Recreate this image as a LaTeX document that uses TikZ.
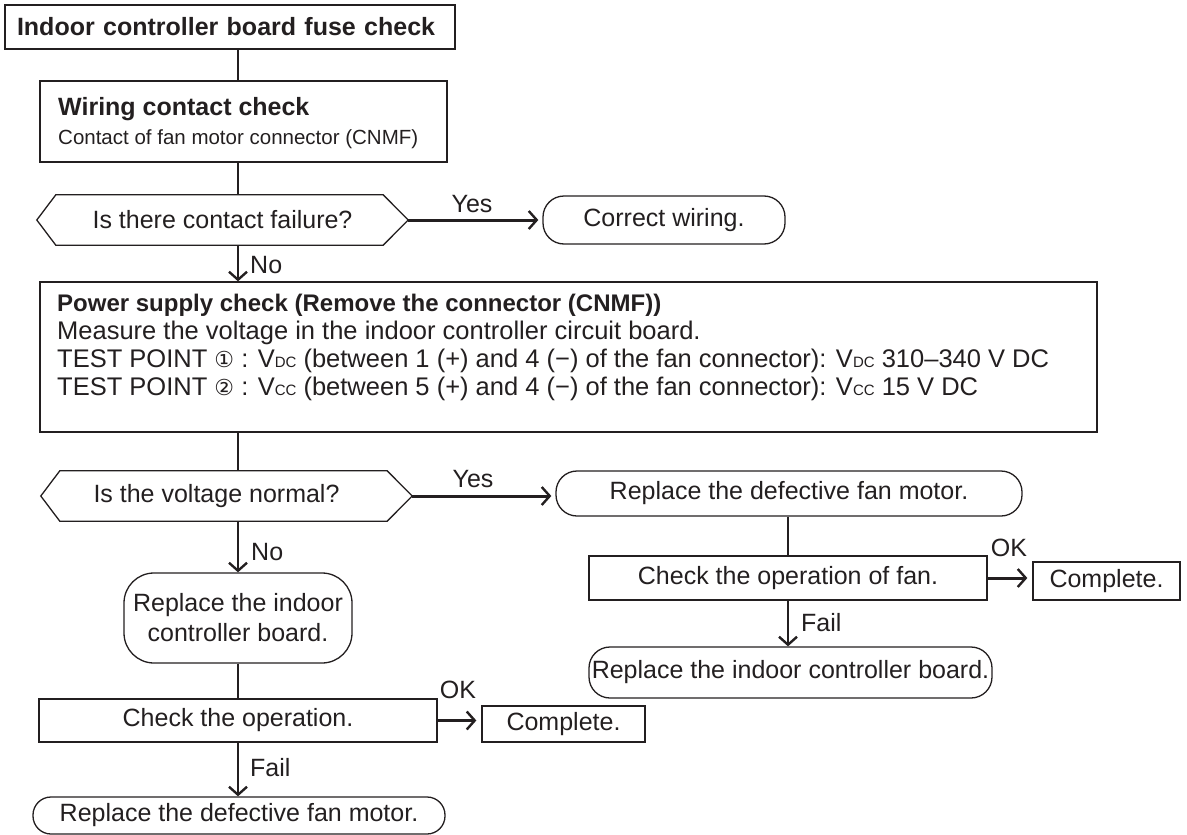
\documentclass[tikz,border=0pt]{standalone}
\usepackage{fontspec}
\setmainfont{Liberation Sans}
\newfontfamily\dejavu{DejaVu Sans}
\usetikzlibrary{arrows.meta,calc}
\definecolor{ink}{RGB}{35,31,32}
\newcommand\vsub[1]{{\fontsize{15}{15}\selectfont #1}}
\begin{document}
\begin{tikzpicture}[x=1pt,y=-1pt,
  every node/.style={text=ink, inner sep=0pt},
  box/.style={draw=ink, line width=1.3pt, rectangle, inner sep=0pt},
  rbox/.style={box, rounded corners=21pt},
  fnt/.style={font=\fontsize{25}{30}\selectfont},
  conn/.style={draw=ink, line width=2.4pt},
  arr/.style={conn, -{Straight Barb[length=8pt,width=18pt,line width=2.4pt]}},
  harr/.style={arr, line width=3pt},
]
\useasboundingbox (0,0) rectangle (1187,835);
\coordinate (sp) at (238,0);

% title
\node[box, minimum width=450pt, minimum height=44pt, text width=426pt, align=left,
      font=\bfseries\fontsize{25}{30}\selectfont] (title) at (230,27) {Indoor controller board fuse check};

% wiring contact check
\node[box, minimum width=407pt, minimum height=81pt] (wire) at (243.5,121.5) {};
\node[anchor=base west, font=\bfseries\fontsize{25}{30}\selectfont] (wiret) at (58,115) {Wiring contact check};
\node[anchor=base west, font=\fontsize{20.5}{24}\selectfont] (wires) at (58,144) {Contact of fan motor connector (CNMF)};

% question 1
\node[fnt, minimum width=371pt, minimum height=50pt] (q1) at (222.5,220) {Is there contact failure?};
\draw[box] (q1.west) -- ([xshift=19pt]q1.north west) -- ([xshift=-25pt]q1.north east) -- (q1.east)
  -- ([xshift=-25pt]q1.south east) -- ([xshift=19pt]q1.south west) -- cycle;
\node[rbox, fnt, minimum width=242pt, minimum height=48pt] (cw) at (664,220) {Correct wiring.};
\node[fnt] (yes1) at (472,204) {Yes};

% power supply check
\node[box, minimum width=1057pt, minimum height=150pt] (pw) at (568.5,357) {};
\node[anchor=base west, font=\bfseries\fontsize{24}{28}\selectfont] (p1) at (57,311) {Power supply check (Remove the connector (CNMF))};
\node[anchor=base west, font=\fontsize{25.5}{28}\selectfont] (p2) at (57,339) {Measure the voltage in the indoor controller circuit board.};
\node[anchor=base west, font=\fontsize{25.5}{28}\selectfont] (p3) at (57,367) {TEST POINT {\dejavu\fontsize{22}{22}\selectfont ①} : V\vsub{DC} (between 1 (+) and 4 (−) of the fan connector): V\vsub{DC} 310–340 V DC};
\node[anchor=base west, font=\fontsize{25.5}{28}\selectfont] (p4) at (57,395) {TEST POINT {\dejavu\fontsize{22}{22}\selectfont ②} : V\vsub{CC} (between 5 (+) and 4 (−) of the fan connector): V\vsub{CC} 15 V DC};
\node[fnt, anchor=west] (no1) at (250,265) {No};

% question 2
\node[fnt, minimum width=371pt, minimum height=50pt] (q2) at (226.5,496) {\hspace*{-20pt}Is the voltage normal?};
\draw[box] (q2.west) -- ([xshift=19pt]q2.north west) -- ([xshift=-25pt]q2.north east) -- (q2.east)
  -- ([xshift=-25pt]q2.south east) -- ([xshift=19pt]q2.south west) -- cycle;
\node[fnt] (yes2) at (473,479) {Yes};

% right branch
\node[rbox, fnt, minimum width=466pt, minimum height=45pt] (rm) at (789,493.5) {Replace the defective fan motor.};
\node[box, fnt, minimum width=398pt, minimum height=44pt] (fc) at (788,578) {Check the operation of fan.};
\node[box, fnt, minimum width=147pt, minimum height=38pt] (c1) at (1106.5,581) {Complete.};
\node[fnt] (ok1) at (1009,548) {OK};
\node[rbox, fnt, minimum width=403pt, minimum height=51pt] (rb) at (790.5,672.5) {Replace the indoor controller board.};
\node[fnt, anchor=west] (fail1) at (801,623) {Fail};

% left branch
\node[box, fnt, rounded corners=30pt, minimum width=228pt, minimum height=90pt, align=center] (ri) at (238,618) {Replace the indoor\\controller board.};
\node[fnt, anchor=west] (no2) at (251,552) {No};
\node[box, fnt, minimum width=398pt, minimum height=43pt] (co) at (238,720.5) {Check the operation.};
\node[box, fnt, minimum width=163pt, minimum height=36pt] (c2) at (563.5,724) {Complete.};
\node[fnt] (ok2) at (458,690) {OK};
\node[rbox, fnt, rounded corners=18pt, minimum width=412pt, minimum height=37pt] (rd) at (239,815.5) {Replace the defective fan motor.};
\node[fnt, anchor=west] (fail2) at (250,768) {Fail};

% connectors
\draw[conn] (title.south -| sp) -- (wire.north -| sp);
\draw[conn] (wire.south -| sp) -- (q1.north -| sp);
\draw[harr, shorten >=4pt] (q1.east) -- (cw.west);
\draw[arr] (q1.south -| sp) -- (pw.north -| sp);
\draw[conn] (pw.south -| sp) -- (q2.north -| sp);
\draw[harr, shorten >=4pt] (q2.east) -- (q2.east -| rm.west);
\draw[arr] (q2.south -| sp) -- (ri.north -| sp);
\draw[conn] (rm.south -| fc.north) -- (fc.north);
\draw[harr, shorten >=5pt] (fc.east) -- (fc.east -| c1.west);
\draw[arr] (fc.south) -- (fc.south |- rb.north);
\draw[conn] (ri.south -| sp) -- (co.north -| sp);
\draw[harr, shorten >=5pt] (co.east) -- (co.east -| c2.west);
\draw[arr] (co.south -| sp) -- (rd.north -| sp);
\end{tikzpicture}
\end{document}
